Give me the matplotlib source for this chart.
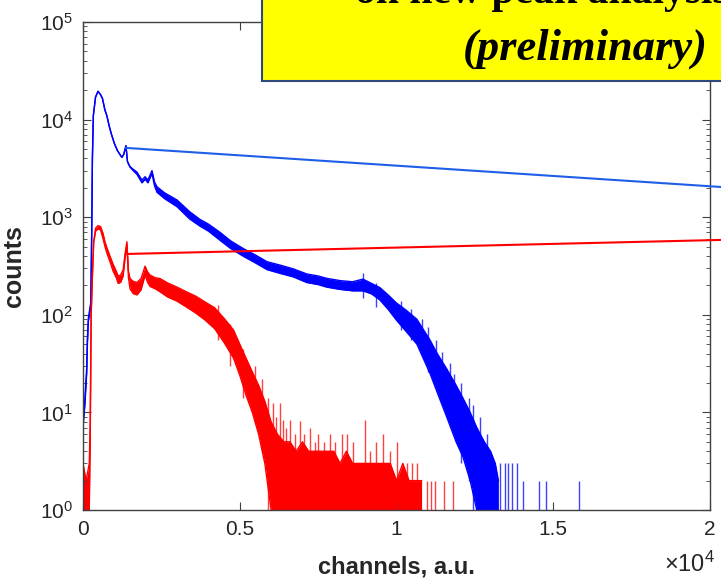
import matplotlib
matplotlib.use("Agg")
import matplotlib.pyplot as plt
from matplotlib.patches import Rectangle
from matplotlib.ticker import FuncFormatter

plt.rcParams['font.family'] = ['Liberation Sans', 'DejaVu Sans']
plt.rcParams['mathtext.fontset'] = 'custom'
plt.rcParams['mathtext.rm'] = 'Liberation Sans'
plt.rcParams['mathtext.it'] = 'Liberation Sans:italic'
plt.rcParams['mathtext.bf'] = 'Liberation Sans:bold'

# -------------------------------
# data
# -------------------------------
# blue spectrum: channel, lower and upper edge of the noisy trace
blue_ch = [0, 60, 117, 140, 170, 250, 280, 300, 330, 400, 480, 560, 620, 700, 760,
           840, 900, 1000, 1100, 1240, 1300, 1370, 1420, 1500, 1600, 1720, 1880, 1980,
           2070, 2200, 2280, 2360, 2600, 3000, 3400, 3730, 4000, 4370, 4700, 5100,
           5500, 5870, 6300, 6700, 7140, 7500, 7780, 8200, 8600, 8930, 9200, 9470,
           9750, 10000, 10300, 10650, 11070, 11300, 11600, 11900, 12120, 12350,
           12560, 12800, 13000, 13150, 13250]
blue_lo = [7, 12, 25, 50, 85, 125, 800, 4000, 11000, 17000, 19500, 18000, 16500, 12500,
           11000, 8500, 7200, 5700, 4800, 4100, 4400, 5400, 3700, 3250, 3000, 2750, 2250,
           2450, 2250, 2800, 2100, 1800, 1550, 1280, 960, 810, 720, 580, 480, 400,
           340, 290, 265, 245, 214, 204, 192, 182, 176, 176, 164, 142,
           112, 88, 68, 50, 25, 16, 9, 5, 3.5, 2,
           1, 1, 1, 1, 1]
blue_hi = [8, 14, 28, 58, 92, 135, 800, 4000, 11000, 17000, 19500, 18000, 16500, 12500,
           11000, 8500, 7200, 5700, 4800, 4100, 4400, 5400, 3700, 3300, 3100, 2900, 2400,
           2600, 2400, 3000, 2300, 2050, 1780, 1500, 1140, 950, 850, 700, 575, 480,
           410, 350, 322, 296, 262, 250, 236, 224, 218, 232, 210, 190,
           158, 132, 112, 90, 55, 40, 28, 19, 14, 10,
           7, 5, 4, 3, 2]
# single noisy channels reaching past the blue trace (channel, from, to)
blue_spike_ch = [8930, 9350, 10150, 10450, 10800, 11000, 11250, 11450, 11700, 11850,
                 12050, 12300, 12450, 12650, 12900, 13300, 13450, 13550, 13700, 13840,
                 14030, 14550, 14770, 15820]
blue_spike_lo = [150, 120, 70, 55, 40, 26, 20, 13, 9, 6,
                 3, 2, 1, 1, 1, 1, 1, 1, 1, 1,
                 1, 1, 1, 1]
blue_spike_hi = [270, 210, 140, 115, 90, 75, 55, 42, 32, 25,
                 20, 14, 12, 9, 6, 3, 3, 3, 3, 3,
                 2, 2, 2, 2]

# red spectrum
red_ch = [0, 100, 200, 230, 260, 300, 340, 400, 480, 560, 640, 700, 760, 860, 960,
          1060, 1120, 1200, 1280, 1340, 1400, 1450, 1500, 1600, 1720, 1850, 1980,
          2060, 2140, 2300, 2460, 2700, 3000, 3300, 3600, 3900, 4200, 4500, 4800,
          5000, 5200, 5400, 5600, 5800, 6000, 6200, 6400, 6600, 6800, 7000, 7200,
          7400, 7600, 7800, 8000, 8200, 8400, 8600, 8800, 9000, 9200, 9400, 9600,
          9800, 10000, 10200, 10400, 10600, 10800]
red_lo = [1, 1, 1, 5, 100, 250, 550, 720, 760, 740, 600, 500, 430, 350, 280,
          240, 210, 215, 250, 380, 520, 240, 185, 165, 160, 180, 255,
          215, 195, 185, 172, 152, 138, 120, 104, 88, 72, 52, 36,
          24, 15, 10, 6, 3, 1, 1, 1, 1, 1, 1, 1,
          1, 1, 1, 1, 1, 1, 1, 1, 1, 1, 1, 1,
          1, 1, 1, 1, 1, 1]
red_hi = [3, 2, 3, 8, 100, 250, 550, 770, 820, 800, 680, 560, 490, 400, 330,
          280, 250, 255, 290, 420, 560, 280, 235, 220, 215, 235, 315,
          275, 255, 240, 235, 212, 192, 172, 155, 135, 118, 92, 70,
          50, 36, 26, 19, 13, 8, 6, 5, 5, 4, 5, 4,
          4, 4, 4, 4, 3, 4, 3, 3, 3, 3, 3, 3,
          3, 2, 3, 2, 2, 2]
red_spike_ch = [4300, 4700, 5100, 5500, 5700, 5900, 6060, 6150, 6280, 6380, 6480, 6600,
                6750, 6920, 7050, 7240, 7400, 7500, 7700, 7880, 8050, 8250, 8420, 8600,
                8990, 9150, 9350, 9570, 9800, 10000, 10330, 10480, 10650, 10970, 11100,
                11230, 11510, 11800]
red_spike_lo = [55, 30, 14, 8, 4, 1, 1, 1, 1, 1, 1, 1,
                1, 1, 1, 1, 1, 1, 1, 1, 1, 1, 1, 1,
                1, 1, 1, 1, 1, 1, 1, 1, 1, 1, 1,
                1, 1, 1]
red_spike_hi = [125, 80, 45, 30, 22, 14, 12.5, 9, 12.5, 8.4, 7, 8.4,
                6, 8.2, 6, 7, 5, 6, 5, 6, 5, 6, 6, 5,
                8.4, 4, 5, 6, 4, 5, 3, 3, 3, 2, 2,
                2, 2, 2]

# lines from the new peak (channel ~1370) towards the call-out on the right
peak_ch = [1370, 20350]
blue_peak_line = [5130, 2040]
red_peak_line = [420, 585]

# -------------------------------
# plot
# -------------------------------
fig = plt.figure(figsize=(7.21, 5.84), dpi=100)
ax = fig.add_axes([83 / 721, 74 / 584, 627 / 721, 488 / 584])

ax.fill_between(blue_ch, blue_lo, blue_hi, color='#0000ff', lw=0)
ax.plot(blue_ch, blue_lo, color='#0000ff', lw=1)
ax.plot(blue_ch, blue_hi, color='#0000ff', lw=1)
ax.vlines(blue_spike_ch, blue_spike_lo, blue_spike_hi, color='#0000ff', lw=1, alpha=0.75)

ax.fill_between(red_ch, red_lo, red_hi, color='#ff0000', lw=0)
ax.plot(red_ch, red_lo, color='#ff0000', lw=1)
ax.plot(red_ch, red_hi, color='#ff0000', lw=1)
ax.vlines(red_spike_ch, red_spike_lo, red_spike_hi, color='#ff0000', lw=1, alpha=0.75)

ax.plot(peak_ch, blue_peak_line, color='#1f5fe8', lw=1.5, clip_on=False, zorder=5)
ax.plot(peak_ch, red_peak_line, color='#ff0000', lw=1.5, clip_on=False, zorder=5)

ax.set_yscale('log')
ax.set_xlim(0, 20000)
ax.set_ylim(1, 1e5)
ax.set_xticks([0, 5000, 10000, 15000, 20000])
ax.xaxis.set_major_formatter(FuncFormatter(lambda v, p: '%g' % (v / 1e4)))

for s in ax.spines.values():
    s.set_color('#404040')
    s.set_linewidth(1)
ax.tick_params(which='both', direction='in', top=True, right=True,
               colors='#404040', labelcolor='#262626')
ax.tick_params(which='major', length=6, labelsize=15, pad=7)
ax.tick_params(which='minor', length=3)

ax.set_xlabel('channels, a.u.', fontsize=17, fontweight='bold', color='#262626', labelpad=12)
ax.set_ylabel('counts', fontsize=18, fontweight='bold', color='#262626', labelpad=10)
fig.text(715 / 721, 12 / 584, r'$\times10^{4}$', fontsize=17, color='#262626',
         ha='right', va='baseline')

# yellow call-out box (cut by the picture edge, as in the original slide)
fig.patches.append(Rectangle((262 / 721, 503 / 584), 0.8, 0.3, transform=fig.transFigure,
                             facecolor='#ffff00', edgecolor='#2e4a7a', lw=1.5, zorder=10))
fig.text(355 / 721, 581 / 584, 'on new peak analysis', fontsize=30, fontweight='bold',
         family='Liberation Serif', ha='left', va='baseline', zorder=11)
fig.text(708 / 721, 524 / 584, '(preliminary)', fontsize=32, fontweight='bold',
         fontstyle='italic', family='Liberation Serif', ha='right', va='baseline', zorder=11)

fig.savefig('out.png', dpi=100)
